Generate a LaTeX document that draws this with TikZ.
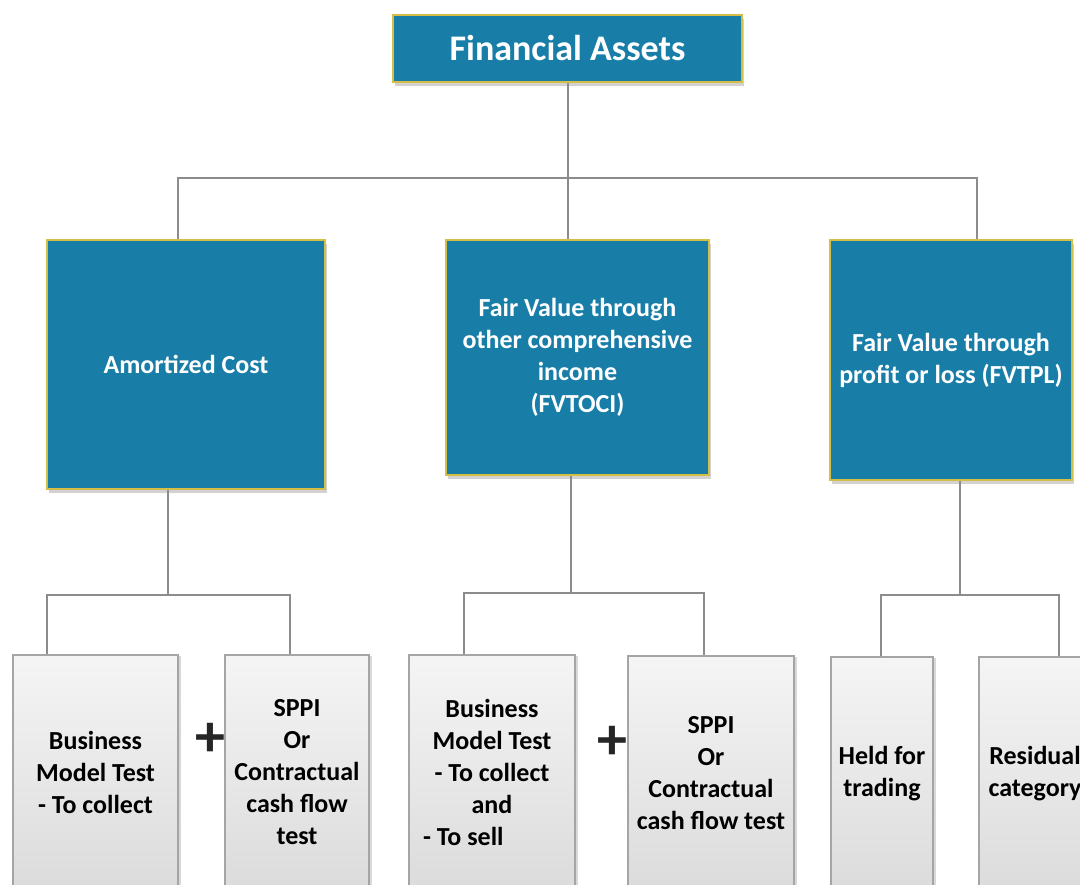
\documentclass[tikz,border=0pt]{standalone}
\usepackage{fontspec}
\setmainfont{Carlito}
\usetikzlibrary{shadows}
\definecolor{boxblue}{RGB}{24,126,168}
\definecolor{boxgold}{RGB}{214,190,70}
\definecolor{connline}{RGB}{140,140,140}
\definecolor{greyedge}{RGB}{165,165,165}
\tikzset{
  bluebox/.style={rectangle, draw=boxgold, line width=1.5pt, fill=boxblue,
    text=white, font=\bfseries\fontsize{26}{32}\selectfont, align=center, inner sep=0pt,
    drop shadow={opacity=0.35, shadow xshift=2pt, shadow yshift=-4pt}},
  greybox/.style={rectangle, draw=greyedge, line width=1.5pt, top color=white!96!black,
    bottom color=white!86!black, text=black, font=\bfseries\fontsize{26}{32}\selectfont,
    align=center, inner sep=0pt, minimum height=234pt,
    drop shadow={opacity=0.3, shadow xshift=3pt, shadow yshift=-1pt}},
  conn/.style={draw=connline, line width=2pt},
  plussign/.style={font=\bfseries\fontsize{60}{60}\selectfont, text=black!85, inner sep=0pt}
}
\begin{document}
\begin{tikzpicture}[x=1pt,y=-1pt]
\useasboundingbox (0,0) rectangle (1080,885);
\clip (0,0) rectangle (1080,885);
\fill[white] (0,0) rectangle (1080,885);

% top
\node[bluebox, minimum width=349pt, minimum height=67pt, font=\bfseries\fontsize{36}{43}\selectfont]
  (top) at (567.5,48.5) {Financial Assets};

% level 2
\node[bluebox, minimum width=278pt, minimum height=249pt] (A) at (186,364.5) {Amortized Cost};
\node[bluebox, minimum width=263pt, minimum height=235pt] (B) at (577.5,357.5)
  {Fair Value through\\other comprehensive\\income\\(FVTOCI)};
\node[bluebox, minimum width=242pt, minimum height=240pt] (C) at (951,360)
  {Fair Value through\\profit or loss (FVTPL)};

% level 3
\node[greybox, minimum width=165pt] (b1) at (95.5,772) {Business\\Model Test\\- To collect};
\node[greybox, minimum width=144pt] (b2) at (297,772) {SPPI\\Or\\Contractual\\cash flow\\test};
\node[greybox, minimum width=166pt] (b3) at (492,772)
  {Business\\Model Test\\- To collect\\and\\\makebox[138pt][l]{- To sell}};
\node[greybox, minimum width=166pt] (b4) at (711,773) {SPPI\\Or\\Contractual\\cash flow test};
\node[greybox, minimum width=102pt] (b5) at (882,774) {Held for\\trading};
\node[greybox, minimum width=112pt] (b6) at (1035,774) {Residual\\category};

% plus signs
\node[plussign] (plus1) at (210,740) {+};
\node[plussign] (plus2) at (612,743) {+};

% connectors
\coordinate (hub) at (567.5,178);
\draw[conn] (top.south) -- (top.south |- B.north);
\draw[conn] ([xshift=-8pt]A.north) |- (hub) -| ([xshift=26pt]C.north);

\coordinate (ja) at (168,595);
\draw[conn] ([xshift=-18pt]A.south) -- (ja);
\draw[conn] ([xshift=-48.5pt]b1.north) |- (ja) -| ([xshift=-7pt]b2.north);

\coordinate (jb) at (571,593);
\draw[conn] ([xshift=-6.5pt]B.south) -- (jb);
\draw[conn] ([xshift=-28pt]b3.north) |- (jb) -| ([xshift=-7pt]b4.north);

\coordinate (jc) at (960,595);
\draw[conn] ([xshift=9pt]C.south) -- (jc);
\draw[conn] ([xshift=-1pt]b5.north) |- (jc) -| ([xshift=24pt]b6.north);
\end{tikzpicture}
\end{document}
